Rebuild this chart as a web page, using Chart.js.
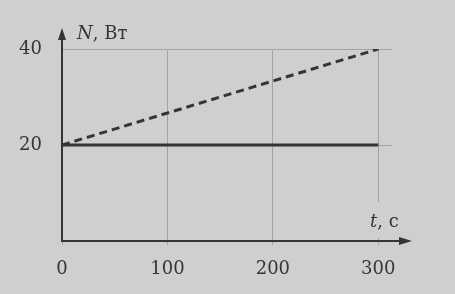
<!DOCTYPE html>
<html>
<head>
<meta charset="utf-8">
<script src="https://cdn.jsdelivr.net/npm/chart.js@4.4.1/dist/chart.umd.min.js"></script>
<style>
  html, body { margin: 0; padding: 0; background: #cfcfcd; }
  #wrap { width: 455px; height: 294px; }
</style>
</head>
<body>
<div id="wrap"><canvas id="grafico"></canvas></div>
<script>
// t, c
const tiempos = [0, 300];
// N, Вт
const potenciaConst = [20, 20];
const potenciaLineal = [20, 40];
const ticksX = [0, 100, 200, 300];
const ticksY = [20, 40];

const tinta = '#353535';
const rejilla = '#a3a3a1';
const fondo = '#cfcfcd';
const fuente = '"DejaVu Serif", "Liberation Serif", serif';

const ejes = {
  id: 'ejes',
  afterDraw(chart) {
    const ctx = chart.ctx;
    const x = chart.scales.x, y = chart.scales.y;
    const x0 = x.getPixelForValue(0), y0 = y.getPixelForValue(0);
    const xFin = 412, yFin = 28;
    ctx.save();
    // hueco de la rejilla bajo el nombre del eje t
    ctx.fillStyle = fondo;
    ctx.fillRect(368, 202, 34, 36);
    ctx.strokeStyle = tinta;
    ctx.fillStyle = tinta;
    ctx.lineWidth = 2;
    ctx.beginPath();
    ctx.moveTo(x0, y0 + 1);
    ctx.lineTo(x0, yFin + 6);
    ctx.moveTo(x0 - 1, y0);
    ctx.lineTo(xFin - 6, y0);
    ctx.stroke();
    // flechas
    ctx.beginPath();
    ctx.moveTo(x0, yFin);
    ctx.lineTo(x0 - 4, yFin + 12);
    ctx.lineTo(x0 + 4, yFin + 12);
    ctx.closePath();
    ctx.fill();
    ctx.beginPath();
    ctx.moveTo(xFin, y0);
    ctx.lineTo(xFin - 13, y0 - 4);
    ctx.lineTo(xFin - 13, y0 + 4);
    ctx.closePath();
    ctx.fill();
    // nombres de ejes
    ctx.textBaseline = 'middle';
    ctx.font = 'italic 18px ' + fuente;
    ctx.fillText('N', 77, 34);
    let w = ctx.measureText('N').width;
    ctx.font = '18px ' + fuente;
    ctx.fillText(', Вт', 77 + w, 34);
    ctx.font = 'italic 18px ' + fuente;
    ctx.fillText('t', 370, 222);
    w = ctx.measureText('t').width;
    ctx.font = '18px ' + fuente;
    ctx.fillText(', с', 370 + w, 222);
    ctx.restore();
  }
};

new Chart(document.getElementById('grafico'), {
  type: 'line',
  data: {
    datasets: [{
      label: 'N const',
      data: tiempos.map((t, i) => ({ x: t, y: potenciaConst[i] })),
      borderColor: tinta,
      borderWidth: 3,
      pointRadius: 0,
      fill: false
    }, {
      label: 'N lineal',
      data: tiempos.map((t, i) => ({ x: t, y: potenciaLineal[i] })),
      borderColor: tinta,
      borderWidth: 3,
      borderDash: [8, 5],
      pointRadius: 0,
      fill: false
    }]
  },
  options: {
    responsive: true,
    maintainAspectRatio: false,
    animation: false,
    layout: { padding: { top: 49, right: 63, left: 0, bottom: 0 } },
    plugins: { legend: { display: false }, tooltip: { enabled: false } },
    scales: {
      x: {
        type: 'linear',
        min: 0,
        max: 313,
        afterBuildTicks: s => { s.ticks = ticksX.map(v => ({ value: v })); },
        afterFit: s => { s.height = 53; },
        border: { display: false },
        grid: { color: rejilla, lineWidth: 1, tickLength: 4 },
        ticks: { color: tinta, font: { family: fuente, size: 18 }, padding: 14, maxRotation: 0 }
      },
      y: {
        min: 0,
        max: 40,
        afterBuildTicks: s => { s.ticks = ticksY.map(v => ({ value: v })); },
        afterFit: s => { s.width = 62; },
        border: { display: false },
        grid: { color: rejilla, lineWidth: 1, drawTicks: false },
        ticks: { color: tinta, font: { family: fuente, size: 18 }, padding: 20 }
      }
    }
  },
  plugins: [ejes]
});
</script>
</body>
</html>
